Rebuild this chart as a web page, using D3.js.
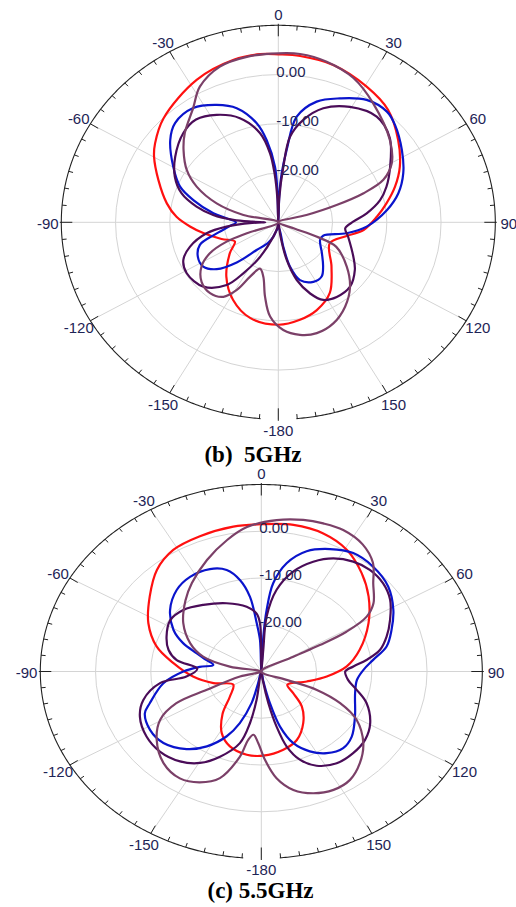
<!DOCTYPE html>
<html>
<head>
<meta charset="utf-8">
<script src="https://cdn.jsdelivr.net/npm/d3@7"></script>
<style>
body { margin: 0; background: #fff; }
svg { display: block; }
</style>
</head>
<body>
<div id="main"></div>
<script>
// angle tick labels and dB rings
const angleLabels = [0, 30, 60, 90, 120, 150, -180, -150, -120, -90, -60, -30];
const ringLevels = [-20, -10, 0];
const ringLabels = ["-20.00", "-10.00", "0.00"];

// ---- (b) 5GHz : angles (deg) and gain (dB), in path order ----
const red5Ang = [0, 6.8, 17.6, 30.6, 41.6, 52.9, 63.2, 71.4, 79.1, 86.5, 95.7, 102.5, 114.2, 132.5, 146.5, 158.3, 168.6, 180, -165, -152, -139, -125, -116, -108, -99, -93, -86.6, -79.4, -68.8, -59.8, -54.8, -45, -27.5, -14, -5.6];
const red5Db = [4.1, 4.0, 3.5, 2.0, 0.5, -2.3, -4.9, -7.3, -9.7, -11.8, -14.2, -17.1, -19.6, -16.7, -12.8, -10.8, -9.8, -9.2, -9.9, -12.2, -15.4, -19.1, -21.1, -19.0, -16.0, -13.7, -11.2, -9.1, -6.3, -3.5, -2.2, -0.1, 2.6, 4.0, 4.3];

const blue5Ang = [-170, -162.5, -156, -144.6, -136.8, -130, -123, -115.3, -107.7, -102, -95, -90, -85, -81.3, -73.9, -68.2, -59.8, -50, -43.4, -34.1, -25.5, -18.3, -11.2, -7.3, -3.1, -1.5, 0, 2, 3.6, 6, 9, 16.1, 24.3, 33.2, 41.7, 47.5, 57.2, 66.6, 75.1, 82.9, 93.1, 100, 108.2, 115, 128, 137.4, 144, 151.9, 161.2, 166.5, 169.5, 175];
const blue5Db = [-28.4, -26.9, -25.5, -23.1, -18.8, -15.2, -13.5, -13.6, -14.8, -18.0, -21.0, -22.2, -20.4, -17.9, -13.7, -10.5, -7.6, -4.0, -2.3, -2.0, -3.6, -5.6, -9.5, -13.2, -18.7, -24.0, -30, -24.0, -20.0, -15.2, -8.3, -4.5, -2.4, -0.3, 0.1, -0.8, -2.9, -4.9, -7.1, -9.8, -13.7, -17.2, -21.3, -21.5, -19.8, -17.8, -16.4, -16.3, -17.6, -20.7, -25.0, -28.8];

const plum5Ang = [-170, -162.5, -154.4, -148.1, -143.2, -133.4, -121.5, -113.6, -106.9, -99.6, -95.3, -91.5, -90, -88.5, -86.7, -83, -78.1, -71.7, -64.1, -55, -44, -36, -27.5, -18.5, -10.5, -6.2, -4, -2, 0, 2, 4.7, 7.1, 12.5, 19.7, 29.4, 40.2, 50, 61.3, 70.1, 76.5, 83.6, 89.5, 95.6, 102.8, 116.8, 124.4, 134.7, 144.6, 152.3, 157.9, 163.8, 168.5, 172, 176];
const plum5Db = [-28.8, -26.9, -22.2, -17.8, -14.1, -11.0, -10.2, -10.9, -13.0, -16.6, -20.4, -25.2, -27.6, -25.2, -21.7, -17.9, -14.6, -11.2, -8.8, -6.8, -4.8, -4.2, -5.4, -7.7, -11.6, -15.9, -20.0, -25.2, -30, -25.2, -18.7, -12.5, -8.7, -5.4, -3.1, -1.9, -3.2, -6.5, -8.8, -10.7, -13.6, -16.2, -17.6, -16.8, -14.5, -12.9, -11.4, -11.4, -12.2, -14.4, -17.8, -22.2, -27.2, -30];

const mauve5Ang = [-95, -77, -71.3, -64.3, -57.9, -50, -43.6, -34.1, -27.7, -18.8, -9.8, 0, 6.7, 15.3, 25.3, 36, 50.9, 60.2, 66, 69.4, 71.9, 74.2, 95, 113, 112.4, 115, 125.5, 134.7, 144.3, 153.7, 162.5, 170.1, 177.6, -175.5, -170.8, -166, -160.3, -154.8, -150.8, -146.2, -138.8, -130.5, -122.5, -116.5, -112.4, -111];
const mauve5Db = [-30, -23.4, -18.0, -13.3, -10.1, -7.2, -5.0, -2.0, 1.1, 3.4, 4.1, 4.3, 4.4, 3.8, 2.4, -0.2, -3.5, -5.9, -8.8, -13.2, -18.7, -24.6, -30, -26.8, -22.4, -18.2, -14.5, -11.4, -8.9, -7.1, -6.4, -6.8, -8.1, -10.8, -14.7, -18.6, -20.0, -17.8, -14.2, -11.8, -10.9, -11.4, -13.2, -15.9, -19.7, -23.8];

// ---- (c) 5.5GHz ----
const red55Ang = [-171.6, -160.5, -151.5, -142.4, -133.3, -119, -106, -95, -83.6, -74.2, -63.2, -51.5, -41, -31.5, -21, -9.3, 0, 10.5, 20.8, 30.7, 40.8, 50.4, 61.9, 75.4, 86, 95.2, 104.6, 121, 128.7, 135.6, 145.5, 156.3, 166.6, 178.9];
const red55Db = [-12.0, -13.0, -15.0, -18.5, -22.2, -24.2, -21.0, -17.6, -14.0, -10.3, -7.1, -4.2, -1.2, 0.5, 1.0, 1.4, 1.5, 1.9, 1.6, 0.3, -2.2, -4.8, -8.0, -11.6, -14.5, -18.1, -21.5, -24.5, -22.6, -19.5, -16.6, -14.0, -12.8, -12.0];

const blue55Ang = [-167, -165.4, -160.6, -155.7, -148.4, -140.8, -130.8, -121.8, -113, -108.6, -98.1, -90, -85, -80.8, -75, -71.6, -66.8, -60.8, -51.5, -41.3, -32.5, -23, -16.1, -11.1, -7.3, -4.6, -2, 0, 2.8, 4.2, 6.5, 11.2, 17.7, 25.4, 33.3, 42.1, 51.6, 61.1, 69.3, 76.7, 83, 88.9, 96, 105.3, 119.6, 130.4, 137.9, 145.9, 152.8, 159.3, 164, 167, 170, 180];
const blue55Db = [-27.4, -23.0, -18.3, -14.8, -11.2, -8.6, -6.6, -6.3, -7.1, -8.7, -12.1, -15.9, -18.8, -21.2, -19.2, -17.7, -14.6, -11.8, -8.9, -6.8, -6.0, -6.2, -7.4, -10.1, -13.9, -19.6, -23.3, -30, -22.5, -16.8, -11.0, -6.4, -3.0, -1.0, 0.3, 0.2, -0.7, -2.7, -4.8, -6.7, -9.6, -11.5, -12.6, -12.4, -10.5, -8.5, -7.9, -8.9, -10.8, -13.6, -17.8, -23.0, -28.0, -30];

const plum55Ang = [-172, -169.5, -165.8, -157.7, -150.4, -142.6, -133, -123.8, -113.7, -105.9, -97.7, -94.6, -87, -81, -74.7, -66.5, -56.3, -47, -36.4, -23.3, -10.8, -3.9, -1.3, -0.5, 0, 4.4, 4.7, 9, 15.2, 21.8, 28.3, 35.3, 42.1, 49.5, 56.7, 64.6, 71.7, 77.8, 82.6, 86.3, 90, 96.5, 102.8, 109.5, 119.3, 127.9, 136.4, 145.2, 153.6, 159.7, 164, 166.8, 169.3, 172, 180];
const plum55Db = [-23.9, -18.8, -14.2, -10.3, -7.5, -5.8, -4.9, -5.0, -6.0, -7.8, -11.5, -16.4, -18.4, -14.5, -12.6, -11.3, -10.2, -10.7, -12.3, -14.1, -15.9, -17.6, -19.7, -25.4, -30, -25.4, -18.2, -12.3, -7.8, -4.7, -2.5, -1.2, -0.7, -1.0, -2.1, -4.2, -6.1, -8.0, -10.8, -13.3, -14.8, -14.2, -12.3, -9.8, -7.4, -6.2, -5.9, -6.1, -7.5, -9.9, -13.3, -17.9, -23.1, -28.2, -30];

const mauve55Ang = [-95, -79.6, -73.2, -64.9, -53.8, -42, -33.6, -22.4, -12.4, -4.8, 4.9, 13.2, 19.5, 26.1, 34, 41, 47, 54.3, 58.4, 61.1, 61.9, 61.4, 85, 111.4, 111.4, 115.4, 120.9, 129.7, 137.7, 145.3, 152.7, 160.1, 167.1, 173.1, 178, -177.9, -174, -170.8, -168, -161.8, -154.8, -147.2, -137.9, -127.6, -119.4, -113.8, -111.6, -105.5];
const mauve55Db = [-30, -24.2, -19.0, -15.8, -12.5, -9.5, -7.3, -4.2, -1.2, 1.0, 2.5, 3.3, 3.6, 3.7, 2.8, 0.8, -2.3, -5.0, -7.6, -12.4, -18.0, -23.4, -30, -25.1, -19.2, -14.2, -9.9, -6.0, -3.5, -1.8, -1.5, -2.3, -4.0, -7.0, -11.1, -14.7, -16.4, -15.2, -11.4, -6.0, -3.8, -2.8, -3.6, -6.1, -9.0, -13.2, -19.4, -26.0];

const ctx = {
    width: 516,
    height: 907,
    top: { cx: 278.3, cy: 222.3, rx: 217, ry: 197, caption: "(b)  5GHz", capX: 253, capY: 462 },
    bottom: { cx: 261.3, cy: 671.5, rx: 221, ry: 187, caption: "(c) 5.5GHz", capX: 260.5, capY: 898 },
    colors: { red: "#ff1010", blue: "#0a14cc", plum: "#4a0c58", mauve: "#7b4068" }
};

function createViz() {
    let svg = d3.select("#main").append("svg")
        .attr("width", ctx.width)
        .attr("height", ctx.height);

    drawPolar(svg, ctx.top, [
        { ang: red5Ang, db: red5Db, color: ctx.colors.red },
        { ang: blue5Ang, db: blue5Db, color: ctx.colors.blue },
        { ang: plum5Ang, db: plum5Db, color: ctx.colors.plum },
        { ang: mauve5Ang, db: mauve5Db, color: ctx.colors.mauve }
    ]);
    drawPolar(svg, ctx.bottom, [
        { ang: red55Ang, db: red55Db, color: ctx.colors.red },
        { ang: blue55Ang, db: blue55Db, color: ctx.colors.blue },
        { ang: plum55Ang, db: plum55Db, color: ctx.colors.plum },
        { ang: mauve55Ang, db: mauve55Db, color: ctx.colors.mauve }
    ]);
}

function drawPolar(svg, p, series) {
    let g = svg.append("g");
    // radius in units of the outer ellipse
    let r = d3.scaleLinear().domain([-30, 10]).range([0, 1]).clamp(true);
    let rad = d => d * Math.PI / 180;
    let px = (a, v) => p.cx + p.rx * v * Math.sin(rad(a));
    let py = (a, v) => p.cy - p.ry * v * Math.cos(rad(a));

    // grid rings
    g.selectAll(".ring").data(ringLevels).enter().append("ellipse")
        .attr("cx", p.cx).attr("cy", p.cy)
        .attr("rx", d => p.rx * r(d)).attr("ry", d => p.ry * r(d))
        .attr("fill", "none").attr("stroke", "#d4d4d4").attr("stroke-width", 1);

    // spokes every 30 deg
    g.selectAll(".spoke").data(d3.range(0, 360, 30)).enter().append("line")
        .attr("x1", p.cx).attr("y1", p.cy)
        .attr("x2", a => px(a, 1)).attr("y2", a => py(a, 1))
        .attr("stroke", "#d4d4d4").attr("stroke-width", 1);

    // outer ellipse, open around -180
    let outer = d3.range(-175.3, 175.4, 0.5).map(a => [px(a, 1), py(a, 1)]);
    g.append("path").attr("d", d3.line()(outer))
        .attr("fill", "none").attr("stroke", "#222").attr("stroke-width", 1.1);

    // ticks every 5 deg
    g.selectAll(".tick").data(d3.range(0, 360, 5)).enter().append("line")
        .attr("x1", a => px(a, 1) + (a % 90 == 0 ? 1.5 : 0) * Math.sin(rad(a)))
        .attr("y1", a => py(a, 1) - (a % 90 == 0 ? 1.5 : 0) * Math.cos(rad(a)))
        .attr("x2", a => px(a, 1) - tickLen(a) * Math.sin(rad(a)))
        .attr("y2", a => py(a, 1) + tickLen(a) * Math.cos(rad(a)))
        .attr("stroke", "#222").attr("stroke-width", 1);

    // angle labels
    g.selectAll(".alab").data(angleLabels).enter().append("text")
        .attr("x", a => px(a, 1.062))
        .attr("y", a => py(a, 1.062) + (a == -180 ? -1 : 1))
        .attr("text-anchor", "middle")
        .attr("dominant-baseline", "central")
        .style("font-family", "'Liberation Sans', Arial, sans-serif")
        .style("font-size", "15px")
        .style("fill", "#1e2456")
        .text(a => a);

    // curves
    let line = d3.line().curve(d3.curveCatmullRomClosed.alpha(0.5));
    series.forEach(s => {
        let pts = s.ang.map((a, i) => [px(a, r(s.db[i])), py(a, r(s.db[i]))]);
        g.append("path").attr("d", line(pts))
            .attr("fill", "none")
            .attr("stroke", s.color)
            .attr("stroke-width", 2.2)
            .attr("stroke-linejoin", "round");
    });

    // ring labels
    g.selectAll(".rlab").data(ringLevels).enter().append("text")
        .attr("x", p.cx - 2)
        .attr("y", d => p.cy - p.ry * r(d) + 2)
        .style("font-family", "'Liberation Sans', Arial, sans-serif")
        .style("font-size", "15px")
        .style("fill", "#1e2456")
        .text((d, i) => ringLabels[i]);

    // caption
    svg.append("text")
        .attr("x", p.capX).attr("y", p.capY)
        .attr("text-anchor", "middle")
        .style("white-space", "pre")
        .style("font-family", "'Liberation Serif', 'Times New Roman', serif")
        .style("font-weight", "bold")
        .style("font-size", "23px")
        .style("fill", "#000")
        .text(p.caption);
}

function tickLen(a) {
    if (a % 90 == 0) return 11;
    if (a % 30 == 0) return 9;
    return 4.5;
}

createViz();
</script>
</body>
</html>
